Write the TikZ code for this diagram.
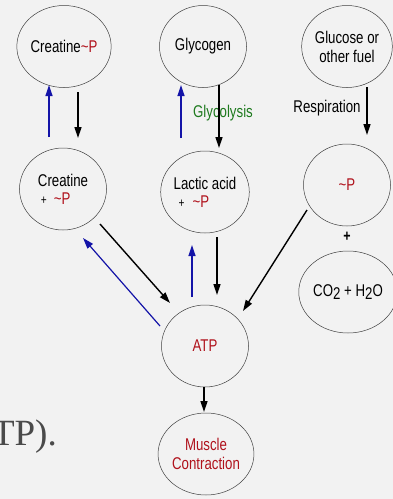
\documentclass[tikz,border=0pt]{standalone}
\usepackage{fontspec}
\setmainfont[FakeStretch=0.78]{Liberation Sans}
\newfontfamily\serifgray{Liberation Serif}
\usetikzlibrary{shapes.geometric,arrows.meta}
\definecolor{bg}{HTML}{F2F2F2}
\definecolor{dred}{HTML}{B0121C}
\definecolor{dblue}{HTML}{1414A8}
\definecolor{dgreen}{HTML}{1E7A1E}
\definecolor{txtgray}{HTML}{4A4A4A}
\newcommand{\tp}{\textcolor{dred}{\textasciitilde P}}
\newcommand{\pl}{{\fontsize{13}{14}\selectfont+}}
\tikzset{
  blob/.style={ellipse, draw=black!75, line width=0.5pt, minimum width=87pt, minimum height=82pt, inner sep=0pt, font=\fontsize{17}{19}\selectfont, align=center},
  blk/.style={line width=1.4pt, draw=black, -{Triangle[length=11pt,width=7pt]}},
  blu/.style={line width=1.2pt, draw=dblue, -{Triangle[length=11pt,width=7pt]}},
  lbl/.style={font=\fontsize{17}{19}\selectfont, inner sep=0pt}
}
\begin{document}
\begin{tikzpicture}[x=1pt,y=-1pt]
\fill[bg] (0,0) rectangle (393,499);
\useasboundingbox (0,0) rectangle (393,499);
\begin{scope}
\clip (0,0) rectangle (393,499);
\node[anchor=base east, inner sep=0pt, text=txtgray, font=\serifgray\fontsize{37}{40}\selectfont] (tpx) at (57,445) {TP).};
\end{scope}

\node[blob] (crp) at (64,46.5) {Creatine\tp};
\node[blob] (gly) at (203,46.5) {Glycogen};
\node[blob] (glu) at (347,46.5) {Glucose or\\other fuel};
\node[blob, align=left] (cr) at (63,189) {Creatine\\[-1pt]\hspace{3pt}\pl\hspace{7pt}\tp};
\node[blob, align=left] (lac) at (205,192) {Lactic acid\\[-1pt]\hspace{5pt}\pl\hspace{8pt}\tp};
\node[blob] (p) at (347,185) {\tp};
\node[blob] (co) at (348,292) {CO\raisebox{-2.5pt}{2} + H\raisebox{-2.5pt}{2}O};
\node[blob] (atp) at (205,346) {\textcolor{dred}{ATP}};
\node[blob] (mus) at (206,454) {\textcolor{dred}{Muscle}\\\textcolor{dred}{Contraction}};

\node[lbl, font=\bfseries\fontsize{16}{17}\selectfont] (plus) at (347,237) {+};
\node[lbl, text=dgreen] (glyc) at (223,113) {Glycolysis};
\node[lbl] (resp) at (327,108) {Respiration};

% arrows
\draw[blu] ([shift={(-14,-52)}]cr.center) -- ([shift={(-15,38.5)}]crp.center);
\draw[blk] ([shift={(14,45.5)}]crp.center) -- ([shift={(15,-51)}]cr.center);
\draw[blu] ([shift={(-24,-54)}]lac.center) -- ([shift={(-22,38.5)}]gly.center);
\draw[blk] ([shift={(16,38.5)}]gly.center) -- ([shift={(14,-44)}]lac.center);
\draw[blk] ([shift={(20,40.5)}]glu.center) -- ([shift={(20,-50)}]p.center);
\draw[blk] ([shift={(37,35)}]cr.center) -- ([shift={(-35,-43)}]atp.center);
\draw[blu] ([shift={(-45,-20)}]atp.center) -- ([shift={(20,49)}]cr.center);
\draw[blu] ([shift={(-13,-49)}]atp.center) -- ([shift={(-13,53)}]lac.center);
\draw[blk] ([shift={(12,45)}]lac.center) -- ([shift={(12,-51)}]atp.center);
\draw[blk] ([shift={(-40,25)}]p.center) -- ([shift={(38,-35)}]atp.center);
\draw[blk] ([shift={(-1,41)}]atp.center) -- ([shift={(-2,-42)}]mus.center);
\end{tikzpicture}
\end{document}
